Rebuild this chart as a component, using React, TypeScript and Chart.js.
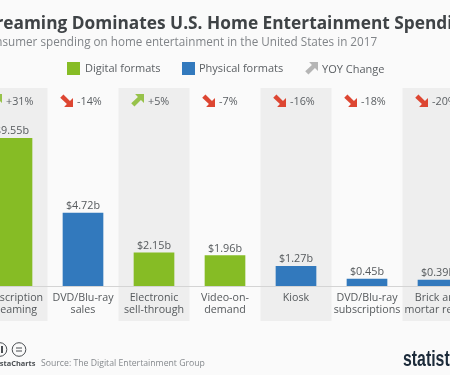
import React, { useEffect, useRef } from "react";
import { Chart, registerables } from "chart.js";

Chart.register(...registerables);

const categories: (string | string[])[] = [
  ["Subscription", "streaming"],
  ["DVD/Blu-ray", "sales"],
  ["Electronic", "sell-through"],
  ["Video-on-", "demand"],
  "Kiosk",
  ["DVD/Blu-ray", "subscriptions"],
  ["Brick and", "mortar rental"],
];
const spending = [9.55, 4.72, 2.15, 1.96, 1.27, 0.45, 0.39];
const yoyChange = [31, -14, 5, -7, -16, -18, -20];
const formats = ["Digital formats", "Physical formats", "Digital formats", "Digital formats", "Physical formats", "Physical formats", "Physical formats"];
const legendItems = ["Digital formats", "Physical formats", "YOY Change"];
const titleText = "Streaming Dominates U.S. Home Entertainment Spending";
const subtitleText = "Consumer spending on home entertainment in the United States in 2017";
const sourceText = "Source: The Digital Entertainment Group";

const GREEN = "#86bc25";
const BLUE = "#3279bd";
const RED = "#dd4632";
const LIGHTGREEN = "#97c24a";
const GREY = "#b5b5b5";
const FONT = '"Open Sans", sans-serif';
const OFFSET = 100;

function arrow(ctx: CanvasRenderingContext2D, x: number, y: number, s: number, up: boolean, color: string) {
  ctx.save();
  ctx.translate(x + s / 2, y + s / 2);
  if (!up) ctx.scale(1, -1);
  ctx.scale(s / 12, s / 12);
  ctx.fillStyle = color;
  ctx.beginPath();
  ctx.moveTo(-2.2, -6);
  ctx.lineTo(6, -6);
  ctx.lineTo(6, 2.2);
  ctx.lineTo(3.2, -0.4);
  ctx.lineTo(-2.8, 5.6);
  ctx.lineTo(-5.8, 2.6);
  ctx.lineTo(0.4, -3.2);
  ctx.closePath();
  ctx.fill();
  ctx.restore();
}

const decor = {
  id: "decor",
  beforeDraw(chart: any) {
    const { ctx, scales, chartArea } = chart;
    const x = scales.x;
    const step = x.getPixelForValue(1) - x.getPixelForValue(0);
    ctx.save();
    ctx.fillStyle = "#fafafa";
    ctx.fillRect(0, 0, chart.width, chart.height);
    ctx.fillStyle = "#eeeeee";
    categories.forEach((_, i) => {
      if (i % 2 === 0) {
        ctx.fillRect(x.getPixelForValue(i) - step / 2, chartArea.top, step, 321 - chartArea.top);
      }
    });
    ctx.restore();
  },
  afterDatasetsDraw(chart: any) {
    const { ctx, scales, chartArea } = chart;
    const x = scales.x;
    ctx.save();
    ctx.strokeStyle = "#d4d4d4";
    ctx.lineWidth = 1;
    ctx.beginPath();
    ctx.moveTo(0, chartArea.bottom + 0.5);
    ctx.lineTo(chart.width, chartArea.bottom + 0.5);
    ctx.stroke();

    ctx.textBaseline = "alphabetic";
    ctx.textAlign = "center";
    ctx.fillStyle = "#3f4346";
    ctx.font = `bold 17.3px ${FONT}`;
    ctx.fillText(titleText, 226 + OFFSET, 29);
    ctx.fillStyle = "#808488";
    ctx.font = `11.7px ${FONT}`;
    ctx.fillText(subtitleText, 179 + OFFSET, 46);

    // legend
    ctx.textAlign = "left";
    ctx.font = `11px ${FONT}`;
    ctx.fillStyle = GREEN;
    ctx.fillRect(67 + OFFSET, 62, 13, 13);
    ctx.fillStyle = BLUE;
    ctx.fillRect(182 + OFFSET, 62, 13, 13);
    arrow(ctx, 305 + OFFSET, 62, 13, true, GREY);
    ctx.fillStyle = "#5c6064";
    ctx.fillText(legendItems[0], 85 + OFFSET, 72);
    ctx.fillText(legendItems[1], 199 + OFFSET, 72);
    ctx.fillText(legendItems[2], 322 + OFFSET, 73);

    // value labels and YOY change
    chart.getDatasetMeta(0).data.forEach((bar: any, i: number) => {
      ctx.textAlign = "center";
      ctx.font = `10.8px ${FONT}`;
      ctx.fillStyle = "#55595c";
      ctx.fillText(`$${spending[i].toFixed(2)}b`, bar.x, bar.y - 4);
      const cx = x.getPixelForValue(i);
      const v = yoyChange[i];
      arrow(ctx, cx - 23, 94, 13, v > 0, v > 0 ? LIGHTGREEN : RED);
      ctx.textAlign = "left";
      ctx.fillStyle = "#5c6064";
      ctx.fillText(`${v > 0 ? "+" : ""}${v}%`, cx - 6, 105);
    });

    // footer
    ctx.strokeStyle = "#4a4e52";
    ctx.lineWidth = 1;
    [[OFFSET + 0, 349.5], [OFFSET + 19, 349.5]].forEach(([a, b]) => {
      ctx.beginPath();
      ctx.arc(a, b, 6.8, 0, Math.PI * 2);
      ctx.stroke();
    });
    ctx.fillStyle = "#4a4e52";
    ctx.fillRect(OFFSET + 16, 347.5, 6, 1);
    ctx.fillRect(OFFSET + 16, 350.5, 6, 1);
    ctx.fillRect(OFFSET + 1, 346, 2, 7);
    ctx.font = `bold 7.4px ${FONT}`;
    ctx.textAlign = "left";
    ctx.fillText("@StatistaCharts", OFFSET - 24, 366);
    ctx.fillStyle = "#85898d";
    ctx.font = `8.7px ${FONT}`;
    ctx.fillText(sourceText, OFFSET + 41, 366);
    ctx.fillStyle = "#1c2b3a";
    ctx.font = 'bold 22px "Liberation Sans Narrow", "Liberation Sans", sans-serif';
    ctx.translate(OFFSET + 403, 366);
    ctx.scale(0.72, 1);
    ctx.fillText("statista", 0, 0);
    ctx.restore();
  },
};

export default function App() {
  const ref = useRef<HTMLCanvasElement>(null);
  useEffect(() => {
    const chart = new Chart(ref.current!, {
      type: "bar",
      data: {
        labels: categories as any,
        datasets: [
          {
            label: "Spending (billion USD)",
            data: spending,
            backgroundColor: formats.map((f) => (f === legendItems[0] ? GREEN : BLUE)),
            barThickness: 40,
          },
        ],
      },
      options: {
        animation: false,
        responsive: false,
        layout: { padding: { top: 88, left: 76.5, right: 76.5, bottom: 0 } },
        plugins: { legend: { display: false }, tooltip: { enabled: false } },
        scales: {
          y: { display: false, min: 0, max: 12.8 },
          x: {
            grid: { display: false, drawTicks: false },
            border: { display: false },
            afterFit: (s: any) => {
              s.height = 375 - 286;
            },
            ticks: {
              autoSkip: false,
              maxRotation: 0,
              minRotation: 0,
              padding: 6,
              color: "#55595c",
              font: { family: '"Open Sans"', size: 10.7, lineHeight: 1.12 },
            },
          },
        },
      },
      plugins: [decor],
    });
    return () => chart.destroy();
  }, []);
  return (
    <div style={{ position: "fixed", inset: 0, overflow: "hidden", background: "#fafafa" }}>
      <canvas ref={ref} width={650} height={375} style={{ position: "absolute", left: -OFFSET, top: 0, width: 650, height: 375 }} />
    </div>
  );
}
